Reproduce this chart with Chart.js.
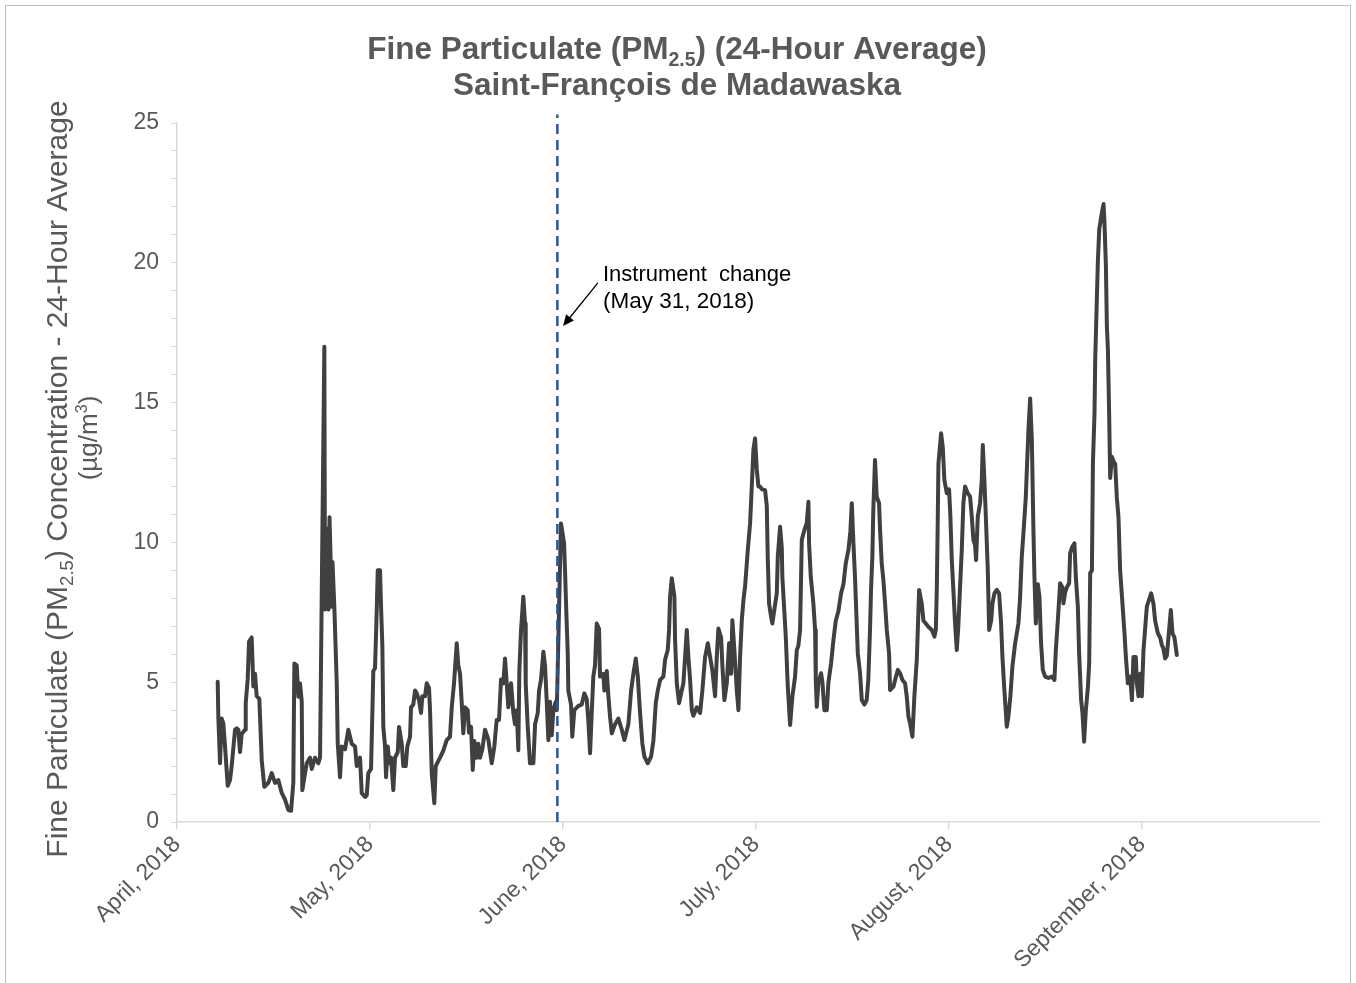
<!DOCTYPE html>
<html><head><meta charset="utf-8">
<script src="https://cdn.jsdelivr.net/npm/chart.js@4.4.1/dist/chart.umd.min.js"></script>
<style>html,body{margin:0;padding:0;background:#fff;} canvas{display:block;}</style>
</head><body>
<canvas id="c" width="1356" height="983"></canvas>
<script>
// ---- data (days since April 1, 2018; 30.5-day month spacing on the axis) ----
const days = [
6.43,6.53,6.80,7.06,7.32,7.59,8.01,8.38,8.64,9.17,9.43,9.69,9.96,10.22,10.75,10.86,11.17,11.38,11.80,12.06,
12.33,12.59,13.01,13.39,13.80,14.43,14.97,15.49,16.01,16.55,17.07,17.59,18.02,18.38,18.54,18.92,19.17,19.44,19.71,19.80,
20.23,20.50,21.02,21.29,21.81,22.33,22.60,23.28,23.39,23.55,23.79,23.94,24.10,24.26,24.42,24.57,24.86,25.24,25.40,25.76,
26.03,26.55,27.07,27.61,28.13,28.40,28.92,29.19,29.71,29.98,30.23,30.66,31.02,31.29,31.56,31.72,32.08,32.24,32.45,32.60,
32.87,33.03,33.30,33.55,33.82,34.18,34.45,34.88,35.08,35.51,35.76,36.14,36.39,36.82,36.98,37.34,37.61,37.88,38.24,38.56,
38.76,39.19,39.46,39.82,39.98,40.25,40.66,40.88,41.56,42.08,42.61,43.14,43.41,43.77,44.20,44.45,44.72,44.98,45.24,45.51,
45.93,46.14,46.46,46.73,46.98,47.36,47.61,47.88,48.24,48.67,49.19,49.73,50.14,50.51,50.88,51.20,51.56,51.83,52.10,52.35,
52.78,53.14,53.41,53.68,53.93,54.09,54.36,54.72,54.99,55.10,55.42,55.78,56.31,56.58,57.00,57.21,57.52,57.89,58.15,58.42,
58.68,58.94,59.21,59.47,59.84,60.01,60.67,61.16,61.31,61.47,61.74,61.83,62.26,62.46,62.78,63.42,63.95,64.36,64.74,65.00,
65.27,65.53,65.78,66.05,66.32,66.69,66.84,67.36,67.53,67.91,68.16,68.43,68.70,69.22,69.74,70.28,70.69,71.32,71.75,72.11,
72.49,72.81,73.17,73.53,73.85,74.38,74.91,75.27,75.65,75.96,76.33,76.85,77.12,77.54,77.75,77.91,78.18,78.59,78.70,78.97,
79.33,79.65,80.01,80.28,80.55,80.80,81.07,81.34,81.59,82.13,82.65,83.01,83.44,83.87,84.23,84.60,85.02,85.29,85.54,85.97,
86.17,86.49,86.87,87.23,87.55,87.75,88.07,88.45,88.71,88.97,89.24,89.50,89.76,90.19,90.55,90.82,91.07,91.34,91.61,91.87,
92.13,92.40,92.92,93.19,93.35,93.55,93.87,94.07,94.39,94.77,94.93,95.29,95.56,95.65,95.97,96.19,96.51,96.87,97.23,97.66,
97.93,98.18,98.45,98.72,99.13,99.51,99.77,99.87,100.14,100.55,100.82,100.93,101.09,101.35,101.77,101.98,102.29,102.67,102.93,103.35,
103.72,104.09,104.51,104.93,105.30,105.67,106.09,106.40,106.62,106.88,107.14,107.30,107.57,107.93,108.20,108.61,108.97,109.23,109.50,109.66,
109.87,110.02,110.29,110.56,110.93,111.09,111.35,111.61,111.88,112.15,112.51,112.67,113.20,113.46,113.89,114.25,114.62,115.04,115.31,115.57,
115.83,116.20,116.51,116.89,117.05,117.26,117.68,117.94,118.32,118.72,119.26,119.68,119.90,120.05,120.21,120.31,120.73,121.00,121.25,121.63,
121.99,122.20,122.42,122.67,122.94,123.21,123.45,123.73,124.00,124.25,124.52,124.94,125.31,125.58,125.83,126.10,126.26,126.53,126.89,127.16,
127.32,127.57,127.80,128.11,128.32,128.64,128.85,129.16,129.53,129.90,130.21,130.42,130.73,131.11,131.37,131.68,132.00,132.43,132.95,133.22,
133.48,133.74,134.12,134.28,134.53,134.80,135.07,135.32,135.48,135.70,136.02,136.27,136.53,136.80,137.17,137.69,138.23,138.64,138.86,139.18,
139.54,139.90,140.06,140.33,140.60,140.96,141.12,141.38,141.80,142.02,142.34,142.54,142.86,143.07,143.33,143.60,143.92,144.13,144.29,144.56,
144.72,144.97,145.08,145.35,145.51,145.72,146.14,146.40,146.55,146.77,146.93,147.09,147.29,147.45,147.72,147.97,148.24,148.50,148.76,149.02,
149.39,149.71,149.93,150.24,150.61,150.88,151.12,151.50,151.66,151.92,152.19,152.45,152.71,153.24,153.92,154.28,154.55,154.98,155.34,155.61,
155.86,156.13,156.40,156.76,157.03,157.29,157.60,157.98
];
const pm25 = [
5.02,3.77,2.1,3.7,3.53,2.7,1.3,1.5,2.0,3.3,3.35,3.3,2.5,3.15,3.3,4.25,5.1,6.45,6.6,4.85,
5.3,4.5,4.4,2.2,1.26,1.4,1.75,1.4,1.5,1.04,0.8,0.43,0.4,1.4,5.67,5.6,4.48,4.95,4.3,1.14,
1.75,2.1,2.3,1.9,2.3,2.1,2.3,17.0,7.6,8.0,10.5,7.6,10.9,9.5,7.7,9.3,7.7,4.96,2.8,1.6,
2.7,2.6,3.3,2.8,2.7,2.0,2.3,1.03,0.9,0.95,1.75,1.9,5.4,5.5,7.6,9.0,9.0,7.7,6.27,3.4,
2.7,1.6,2.7,2.1,2.3,1.14,2.3,2.5,3.4,2.8,2.0,2.0,2.7,3.05,4.1,4.2,4.7,4.6,4.35,3.9,
4.5,4.5,4.96,4.8,4.0,1.75,0.67,2.0,2.3,2.55,2.93,3.05,4.1,4.96,6.39,5.6,5.3,4.3,3.17,4.1,
4.0,3.2,3.4,1.86,2.9,2.3,2.8,2.3,2.6,3.3,2.95,2.1,2.7,3.65,3.65,5.1,4.96,5.85,4.96,4.1,
4.96,3.9,3.5,4.0,2.57,5.4,6.87,8.06,7.1,4.96,3.4,2.1,2.1,3.5,3.9,4.7,5.1,6.09,5.6,4.3,
2.93,4.3,3.1,4.0,4.3,4.0,10.68,9.97,9.0,7.82,6.03,4.7,4.2,3.05,4.0,4.15,4.2,4.6,4.4,3.6,
2.46,3.9,5.2,5.6,7.1,6.9,5.2,5.3,4.7,5.4,4.5,3.75,3.17,3.5,3.7,3.3,2.93,3.5,4.7,5.3,
5.85,5.2,3.89,2.8,2.34,2.1,2.34,2.9,4.25,4.7,5.08,5.2,5.8,6.15,6.87,8.06,8.72,8.06,6.5,4.96,
4.25,4.6,4.96,5.9,6.87,5.9,5.1,4.0,3.8,4.1,3.9,4.7,5.9,6.39,5.9,5.4,4.5,5.9,6.92,6.6,
5.6,4.36,4.96,6.39,5.3,7.22,6.15,4.7,4.0,5.9,7.2,7.94,8.42,9.73,10.68,12.0,13.3,13.72,12.6,12.0,
12.0,11.9,11.87,11.3,9.37,7.82,7.34,7.1,7.6,8.18,9.49,10.56,9.8,8.77,7.5,6.63,4.84,3.47,4.48,5.2,
6.15,6.3,6.87,10.09,10.44,10.7,11.45,9.97,8.77,7.82,6.87,5.08,4.12,5.0,5.32,5.0,4.0,4.0,5.0,5.68,
6.51,7.2,7.55,8.18,8.5,9.25,9.73,10.4,11.4,9.97,8.7,7.7,6.03,5.32,4.36,4.2,4.36,5.08,6.87,8.3,
9.49,11.16,12.95,11.64,11.4,10.44,9.25,8.66,7.82,6.87,6.03,4.72,4.84,5.08,5.44,5.32,5.08,4.96,4.48,3.77,
3.53,3.05,4.5,5.8,6.87,8.3,7.8,7.2,7.1,6.98,6.87,6.63,6.87,8.3,10.92,12.82,13.9,13.4,12.23,11.76,
11.9,10.92,9.37,8.3,7.1,6.15,7.0,8.42,9.73,11.4,12.0,11.76,11.64,10.92,10.09,9.9,9.37,10.92,11.4,12.23,
13.48,12.23,10.92,9.01,6.87,7.2,7.82,8.18,8.3,8.18,7.1,5.91,4.72,3.41,3.77,4.5,5.56,6.39,7.1,8.06,
9.49,10.33,11.64,12.59,14.02,15.15,13.66,10.44,8.77,7.1,8.5,8.06,6.39,5.44,5.2,5.15,5.2,5.08,6.15,7.22,
8.54,8.4,7.82,8.2,8.4,8.54,9.61,9.8,9.97,8.77,7.7,6.03,4.36,3.9,2.87,4.0,4.8,5.68,8.9,9.0,
12.83,14.6,16.5,18.8,20.1,21.2,21.8,22.1,21.4,19.9,17.7,16.9,14.5,12.3,13.06,12.9,12.8,11.6,10.9,9.0,
7.8,6.75,5.9,4.96,5.2,4.36,5.9,5.9,4.96,4.5,5.3,4.5,6.15,7.7,8.18,7.82,7.2,6.75,6.6,6.33,
6.2,5.85,5.95,6.87,7.58,6.75,6.6,5.97
];
const monthTickDays = [0, 30.5, 61, 91.5, 122, 152.5];
const monthLabels = ['April, 2018', 'May, 2018', 'June, 2018', 'July, 2018', 'August, 2018', 'September, 2018'];
const instrumentChangeDay = 60.1;
const xMaxDay = 180.6;
const yMin = 0, yMax = 25;

const FONT = '"Liberation Sans", Arial, sans-serif';
const GREY = '#595959';

function drawRich(ctx, parts, size, weight, color, cx, cy, align) {
  const small = size * 0.62;
  let w = 0;
  const widths = parts.map(([t, m]) => {
    ctx.font = `${weight} ${m ? small : size}px ${FONT}`;
    const mw = ctx.measureText(t).width; w += mw; return mw;
  });
  let x = align === 'left' ? cx : cx - w / 2;
  ctx.fillStyle = color; ctx.textBaseline = 'alphabetic'; ctx.textAlign = 'left';
  const base = cy + size * 0.36;
  parts.forEach(([t, m], i) => {
    ctx.font = `${weight} ${m ? small : size}px ${FONT}`;
    const dy = m === 1 ? size * 0.2 : m === 2 ? -size * 0.4 : 0;
    ctx.fillText(t, x, base + dy);
    x += widths[i];
  });
}

const decor = {
  id: 'decor',
  beforeDraw(chart) {
    const ctx = chart.ctx;
    ctx.save();
    ctx.fillStyle = '#fff';
    ctx.fillRect(0, 0, chart.width, chart.height);
    ctx.strokeStyle = '#bfbfbf'; ctx.lineWidth = 1;
    ctx.strokeRect(5.5, 5.5, chart.width - 11, chart.height + 20);
    ctx.restore();
  },
  afterDraw(chart) {
    const ctx = chart.ctx;
    const xs = chart.scales.x, ys = chart.scales.y;
    ctx.save();
    // title
    drawRich(ctx, [['Fine Particulate (PM', 0], ['2.5', 1], [') (24-Hour Average)', 0]], 31.5, 'bold', GREY, 677, 48);
    drawRich(ctx, [['Saint-François de Madawaska', 0]], 31.5, 'bold', GREY, 677, 84);
    // y-axis title
    ctx.save(); ctx.translate(56, 479); ctx.rotate(-Math.PI / 2);
    drawRich(ctx, [['Fine Particulate (PM', 0], ['2.5', 1], [') Concentration - 24-Hour Average', 0]], 30, 'normal', GREY, 0, 0);
    ctx.restore();
    ctx.save(); ctx.translate(88, 438); ctx.rotate(-Math.PI / 2);
    drawRich(ctx, [['(µg/m', 0], ['3', 2], [')', 0]], 26, 'normal', GREY, 0, 0);
    ctx.restore();
    // annotation
    const tx = xs.getPixelForValue(67.3);
    drawRich(ctx, [['Instrument  change', 0]], 22, 'normal', '#000', tx, ys.getPixelForValue(19.63), 'left');
    drawRich(ctx, [['(May 31, 2018)', 0]], 22.5, 'normal', '#000', tx, ys.getPixelForValue(18.67), 'left');
    const x1 = xs.getPixelForValue(66.5), y1 = ys.getPixelForValue(19.28);
    const x2 = xs.getPixelForValue(61.0), y2 = ys.getPixelForValue(17.74);
    const ang = Math.atan2(y2 - y1, x2 - x1);
    ctx.strokeStyle = '#000'; ctx.fillStyle = '#000'; ctx.lineWidth = 1.3;
    ctx.beginPath(); ctx.moveTo(x1, y1); ctx.lineTo(x2 - 8 * Math.cos(ang), y2 - 8 * Math.sin(ang)); ctx.stroke();
    ctx.beginPath(); ctx.moveTo(x2, y2);
    ctx.lineTo(x2 - 11 * Math.cos(ang) + 5 * Math.sin(ang), y2 - 11 * Math.sin(ang) - 5 * Math.cos(ang));
    ctx.lineTo(x2 - 11 * Math.cos(ang) - 5 * Math.sin(ang), y2 - 11 * Math.sin(ang) + 5 * Math.cos(ang));
    ctx.closePath(); ctx.fill();
    ctx.restore();
  }
};

new Chart(document.getElementById('c'), {
  type: 'line',
  data: {
    datasets: [
      {
        label: 'Instrument change',
        data: [{ x: instrumentChangeDay, y: yMin }, { x: instrumentChangeDay, y: 25.3 }],
        borderColor: '#2F5597', borderWidth: 2.5, borderDash: [10, 6],
        pointRadius: 0, clip: false, order: 0
      },
      {
        label: 'PM2.5',
        data: days.map((d, i) => ({ x: d, y: pm25[i] })),
        borderColor: '#404040', borderWidth: 4, pointRadius: 0, tension: 0,
        borderJoinStyle: 'round', borderCapStyle: 'round', order: 1
      }
    ]
  },
  options: {
    responsive: false, animation: false, devicePixelRatio: 1,
    layout: { padding: { top: 123, right: 36, left: 0, bottom: 0 } },
    plugins: { legend: { display: false }, tooltip: { enabled: false }, title: { display: false } },
    scales: {
      x: {
        type: 'linear', min: 0, max: xMaxDay,
        afterBuildTicks: a => { a.ticks = monthTickDays.map(v => ({ value: v })); },
        afterFit: a => { a.height = 161; },
        ticks: {
          callback: (v, i) => monthLabels[i], maxRotation: 45, minRotation: 45, autoSkip: false,
          font: { family: FONT, size: 23 }, color: GREY, padding: 2
        },
        grid: { drawOnChartArea: false, tickLength: 7, color: '#d9d9d9', lineWidth: 1.5 },
        border: { color: '#d9d9d9', width: 1.5 }
      },
      y: {
        min: yMin, max: yMax,
        afterFit: a => { a.width = 177; },
        ticks: {
          stepSize: 1, autoSkip: false, callback: v => (v % 5 === 0 ? String(v) : ''),
          font: { family: FONT, size: 23 }, color: GREY, padding: 12
        },
        grid: { drawOnChartArea: false, tickLength: 6, color: '#d9d9d9', lineWidth: 1 },
        border: { color: '#d9d9d9', width: 1.5 }
      }
    }
  },
  plugins: [decor]
});
</script>
</body></html>
